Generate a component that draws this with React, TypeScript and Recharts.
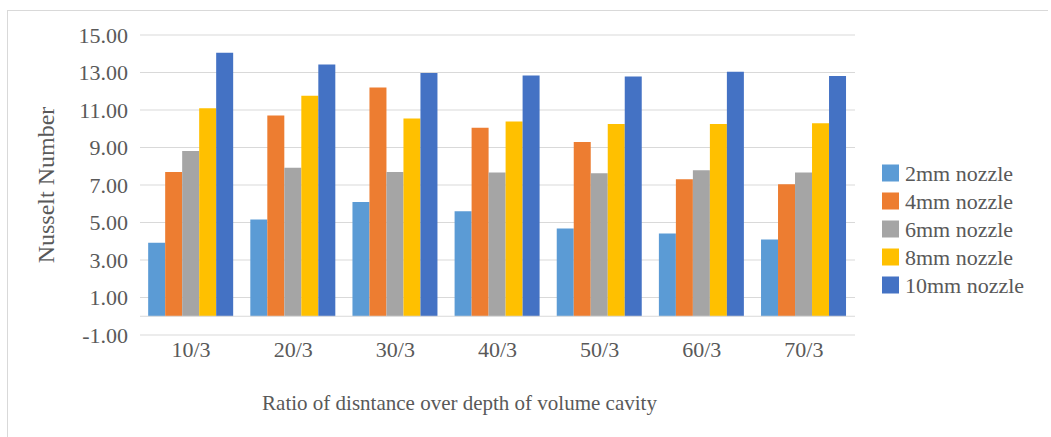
import React from 'react';
import { BarChart, Bar, XAxis, YAxis, CartesianGrid, ReferenceLine } from 'recharts';

const categories = ['10/3', '20/3', '30/3', '40/3', '50/3', '60/3', '70/3'];
const nozzle2 = [3.92, 5.16, 6.09, 5.6, 4.68, 4.41, 4.09];
const nozzle4 = [7.7, 10.71, 12.2, 10.05, 9.3, 7.31, 7.04];
const nozzle6 = [8.81, 7.92, 7.69, 7.67, 7.63, 7.79, 7.67];
const nozzle8 = [11.1, 11.76, 10.55, 10.39, 10.26, 10.25, 10.3];
const nozzle10 = [14.05, 13.43, 12.98, 12.84, 12.79, 13.04, 12.82];
const yTicks = [-1, 1, 3, 5, 7, 9, 11, 13, 15];

const seriesNames = ['2mm nozzle', '4mm nozzle', '6mm nozzle', '8mm nozzle', '10mm nozzle'];
const seriesColors = ['#5B9BD5', '#ED7D31', '#A5A5A5', '#FFC000', '#4472C4'];

const data = categories.map((name, i) => ({
  name,
  n2: nozzle2[i],
  n4: nozzle4[i],
  n6: nozzle6[i],
  n8: nozzle8[i],
  n10: nozzle10[i],
}));
const keys = ['n2', 'n4', 'n6', 'n8', 'n10'];

const font = '"Liberation Serif", "Times New Roman", serif';
const textColor = '#595959';

// legend drawn separately so it doesn't eat into the plot area
const LegendBox = () => (
  <svg width={170} height={145} style={{ position: 'absolute', left: 880, top: 159 }}>
    {seriesNames.map((s, i) => (
      <g key={s}>
        <rect x={2} y={i * 28 + 5.5} width={17} height={17} fill={seriesColors[i]} />
        <text x={25} y={i * 28 + 14} dominantBaseline="central" fontFamily={font} fontSize={22} fill={textColor}>
          {s}
        </text>
      </g>
    ))}
  </svg>
);

const App = () => {
  return (
    <div style={{ position: 'absolute', left: 0, top: 0, width: 1051, height: 437, background: '#fff' }}>
      <div style={{ position: 'absolute', left: 7, top: 10, width: 1040, height: 430, borderTop: '1px solid #d9d9d9', borderLeft: '1px solid #d9d9d9' }} />
      <BarChart
        width={1051}
        height={437}
        data={data}
        margin={{ top: 35, right: 196, left: 10, bottom: 72 }}
        barCategoryGap="8%"
        barGap={0}
      >
        <CartesianGrid horizontal vertical={false} stroke="#d9d9d9" strokeWidth={1} />
        <XAxis
          dataKey="name"
          axisLine={false}
          tickLine={false}
          height={30}
          tick={{ fill: textColor, fontSize: 22, fontFamily: font }}
          tickMargin={0}
          label={{ value: 'Ratio of disntance over depth of volume cavity', position: 'bottom', dx: -38, dy: 25, fill: textColor, fontSize: 21, fontFamily: font }}
        />
        <YAxis
          width={130}
          domain={[-1, 15]}
          ticks={yTicks}
          interval={0}
          axisLine={false}
          tickLine={false}
          tickSize={6}
          tickMargin={6}
          tickFormatter={(v: number) => v.toFixed(2)}
          tick={{ fill: textColor, fontSize: 22, fontFamily: font }}
          label={{ value: 'Nusselt Number', angle: -90, position: 'center', dx: -30, fill: textColor, fontSize: 24, fontFamily: font }}
        />
        <ReferenceLine y={0} stroke="#d9d9d9" strokeWidth={1} />
        {keys.map((k, i) => (
          <Bar key={k} dataKey={k} name={seriesNames[i]} fill={seriesColors[i]} isAnimationActive={false} />
        ))}
      </BarChart>
      <LegendBox />
    </div>
  );
};

export default App;
